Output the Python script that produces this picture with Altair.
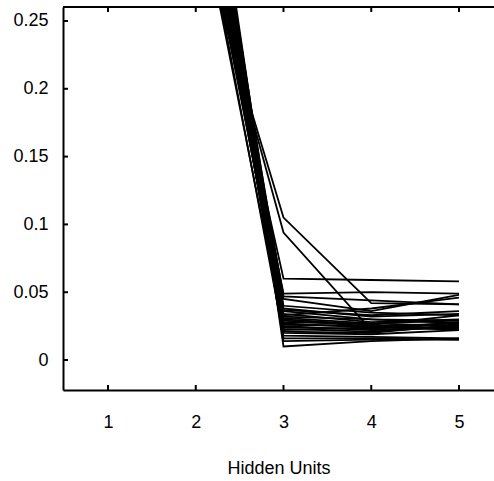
import altair as alt
import pandas as pd

# Hidden units on the x axis
hidden_units = [2, 3, 4, 5]

# Error values for each run (at 2, 3, 4, 5 hidden units)
runs = [
    [0.35, 0.060, 0.059, 0.058],
    [0.37, 0.049, 0.050, 0.049],
    [0.40, 0.047, 0.044, 0.041],
    [0.42, 0.045, 0.036, 0.048],
    [0.38, 0.040, 0.035, 0.033],
    [0.44, 0.038, 0.032, 0.034],
    [0.36, 0.036, 0.030, 0.029],
    [0.39, 0.034, 0.028, 0.030],
    [0.41, 0.032, 0.030, 0.027],
    [0.43, 0.031, 0.027, 0.025],
    [0.45, 0.030, 0.026, 0.033],
    [0.37, 0.029, 0.025, 0.022],
    [0.40, 0.028, 0.027, 0.029],
    [0.42, 0.027, 0.024, 0.026],
    [0.46, 0.026, 0.025, 0.027],
    [0.38, 0.025, 0.022, 0.024],
    [0.35, 0.024, 0.023, 0.028],
    [0.43, 0.023, 0.021, 0.025],
    [0.41, 0.022, 0.024, 0.023],
    [0.39, 0.021, 0.020, 0.026],
    [0.44, 0.020, 0.019, 0.022],
    [0.36, 0.018, 0.017, 0.016],
    [0.40, 0.016, 0.016, 0.015],
    [0.42, 0.014, 0.015, 0.015],
    [0.45, 0.010, 0.014, 0.016],
    [0.32, 0.105, 0.042, 0.041],
    [0.33, 0.094, 0.022, 0.025],
    [0.40, 0.033, 0.038, 0.046],
    [0.43, 0.037, 0.033, 0.036],
]

x_ticks = [1, 2, 3, 4, 5]
y_ticks = [0, 0.05, 0.1, 0.15, 0.2, 0.25]

rows = []
for i, r in enumerate(runs):
    for h, v in zip(hidden_units, r):
        rows.append({"run": i, "hu": h, "err": v})
df = pd.DataFrame(rows)

W, H = 431, 383
xs = alt.Scale(domain=[0.487, 5.399], nice=False, zero=False)
ys = alt.Scale(domain=[-0.0221, 0.2603], nice=False, zero=False)

xaxis = alt.Axis(values=x_ticks, title="Hidden Units", ticks=False, grid=False,
                 labelPadding=23, titlePadding=28, domainWidth=2, domainColor="black",
                 labelFlush=False)
yaxis = alt.Axis(values=y_ticks, title=None, ticks=False, grid=False, format="~g",
                 labelPadding=15, domainWidth=2, domainColor="black", labelAlign="right")

lines = alt.Chart(df).mark_line(color="black", strokeWidth=1.8, clip=True).encode(
    x=alt.X("hu:Q", scale=xs, axis=xaxis),
    y=alt.Y("err:Q", scale=ys, axis=yaxis),
    detail="run:N",
)

xt = pd.DataFrame({"hu": x_ticks})
yt = pd.DataFrame({"err": y_ticks})

xtick_bottom = alt.Chart(xt).mark_rule(color="black", strokeWidth=2).encode(
    x=alt.X("hu:Q", scale=xs, axis=xaxis), y=alt.value(H - 5), y2=alt.value(H))
xtick_top = alt.Chart(xt).mark_rule(color="black", strokeWidth=2).encode(
    x=alt.X("hu:Q", scale=xs, axis=xaxis), y=alt.value(0), y2=alt.value(5))
ytick = alt.Chart(yt).mark_rule(color="black", strokeWidth=2).encode(
    y=alt.Y("err:Q", scale=ys, axis=yaxis), x=alt.value(0), x2=alt.value(5))
top_border = alt.Chart(xt).mark_rule(color="black", strokeWidth=2).encode(
    x=alt.value(0), x2=alt.value(W), y=alt.value(0))

chart = alt.layer(lines, xtick_bottom, xtick_top, ytick, top_border).properties(
    width=W, height=H,
    background="white",
    autosize=alt.AutoSizeParams(type="none"),
    padding={"left": 63, "top": 7, "right": 0, "bottom": 91},
).configure_view(stroke=None).configure_axis(
    labelFont="Liberation Sans", titleFont="Liberation Sans",
    labelFontSize=18, titleFontSize=18, titleFontWeight="normal",
    labelColor="black", titleColor="black",
)

chart.save("out.html", embed_options={"renderer": "svg", "actions": False})
